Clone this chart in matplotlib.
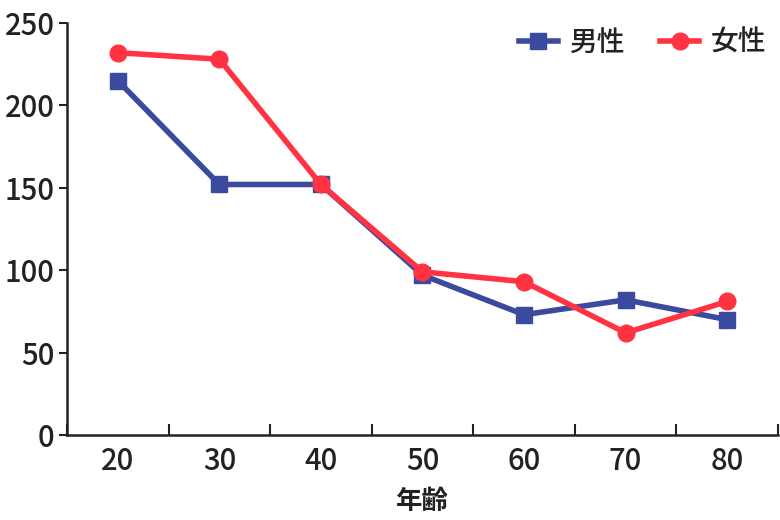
import matplotlib
matplotlib.use("Agg")
import matplotlib.pyplot as plt
import numpy as np

plt.rcParams['font.family'] = ['Noto Sans CJK JP', 'DejaVu Sans']
plt.rcParams['font.weight'] = 'medium'

categories = ["20", "30", "40", "50", "60", "70", "80"]
male = [215, 152, 152, 97, 73, 82, 70]
female = [232, 228, 152, 99, 93, 62, 81]

fig = plt.figure(figsize=(7.8, 5.2), dpi=100)
ax = fig.add_axes([0.0859, 0.1635, 0.9115, 0.7923])

x = np.arange(len(categories))
ax.plot(x, male, color="#3a4a9f", lw=4, marker="s", ms=11, label="男性")
ax.plot(x, female, color="#ff3341", lw=4, marker="o", ms=12, label="女性")

ax.set_xlim(-0.5, len(categories) - 0.5)
ax.set_ylim(0, 250)
ax.set_yticks([0, 50, 100, 150, 200, 250])
ax.tick_params(axis='y', labelsize=21, length=6, width=1.5, color="#222222", labelcolor="#222222", pad=3)

ax.set_xticks(x)
ax.set_xticklabels(categories)
ax.tick_params(axis='x', which='major', length=0, labelsize=21, labelcolor="#222222", pad=8)
ax.set_xticks(np.arange(len(categories) + 1) - 0.5, minor=True)
ax.tick_params(axis='x', which='minor', direction='in', length=8, width=1.5, color="#222222")

for s in ['top', 'right']:
    ax.spines[s].set_visible(False)
for s in ['left', 'bottom']:
    ax.spines[s].set_linewidth(1.8)
    ax.spines[s].set_color("#222222")

ax.set_xlabel("年齢", fontsize=19, color="#222222", labelpad=8, fontweight='bold')

leg = ax.legend(loc="upper right", frameon=False, ncol=2, fontsize=20,
                handlelength=1.4, columnspacing=1.3, handletextpad=0.4,
                bbox_to_anchor=(1.018, 1.05))
for t in leg.get_texts():
    t.set_color("#222222")

fig.savefig("out.png", dpi=100)
